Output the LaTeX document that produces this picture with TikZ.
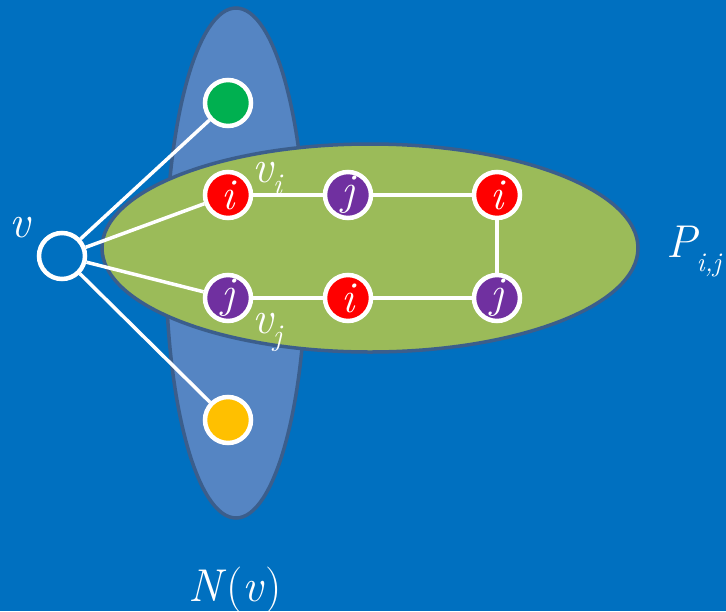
\documentclass[tikz,border=0pt]{standalone}
\begin{document}
\begin{tikzpicture}[x=1pt,y=-1pt,
  vert/.style={circle,draw=white,line width=4.5pt,minimum size=46pt,inner sep=0pt,font=\fontsize{44}{44}\selectfont\itshape,text=white},
  edge/.style={draw=white,line width=3.5pt},
  lbl/.style={text=white,font=\fontsize{46}{46}\selectfont\itshape,inner sep=0pt}]
\definecolor{bg}{HTML}{0070C0}
\definecolor{nblue}{HTML}{5585C3}
\definecolor{rim}{HTML}{3B5E8C}
\definecolor{pgreen}{HTML}{9BBB59}
\definecolor{cred}{HTML}{FF0000}
\definecolor{cpurple}{HTML}{7030A0}
\definecolor{cgreen}{HTML}{00B050}
\definecolor{cyellow}{HTML}{FFC000}
\fill[bg] (0,0) rectangle (726,611);
\useasboundingbox (0,0) rectangle (726,611);
\draw[fill=nblue,draw=rim,line width=3.5pt] (236,263) ellipse [x radius=70, y radius=255];
\draw[fill=pgreen,draw=rim,line width=3.5pt] (370,248) ellipse [x radius=268, y radius=104];
\node[vert,fill=bg] (v) at (62,256) {};
\node[vert,fill=cgreen] (g) at (228,103) {};
\node[vert,fill=cyellow] (y) at (228,420) {};
\node[vert,fill=cred] (a1) at (228,195) {i};
\node[vert,fill=cpurple] (a2) at (348,195) {j};
\node[vert,fill=cred] (a3) at (497,195) {i};
\node[vert,fill=cpurple] (b1) at (228,298) {j};
\node[vert,fill=cred] (b2) at (348,298) {i};
\node[vert,fill=cpurple] (b3) at (497,298) {j};
\path[edge] (v) -- (g);
\path[edge] (v) -- (y);
\path[edge] (v) -- (a1);
\path[edge] (v) -- (b1);
\path[edge] (a1) -- (a2);
\path[edge] (a2) -- (a3);
\path[edge] (a3) -- (b3);
\path[edge] (b1) -- (b2);
\path[edge] (b2) -- (b3);
\node[lbl] (lv) at (20,228) {v};
\node[lbl,anchor=base west] (lvi) at (252,182) {v\raisebox{-12pt}{\fontsize{30}{30}\selectfont i}};
\node[lbl,anchor=base west] (lvj) at (252,333) {v\raisebox{-12pt}{\fontsize{30}{30}\selectfont j}};
\node[lbl,anchor=base west] (lp) at (666,257) {P\raisebox{-14pt}{\fontsize{27}{27}\selectfont i,j}};
\node[lbl,anchor=base] (ln) at (235,601) {N\textup{(}v\textup{)}};
\end{tikzpicture}
\end{document}
